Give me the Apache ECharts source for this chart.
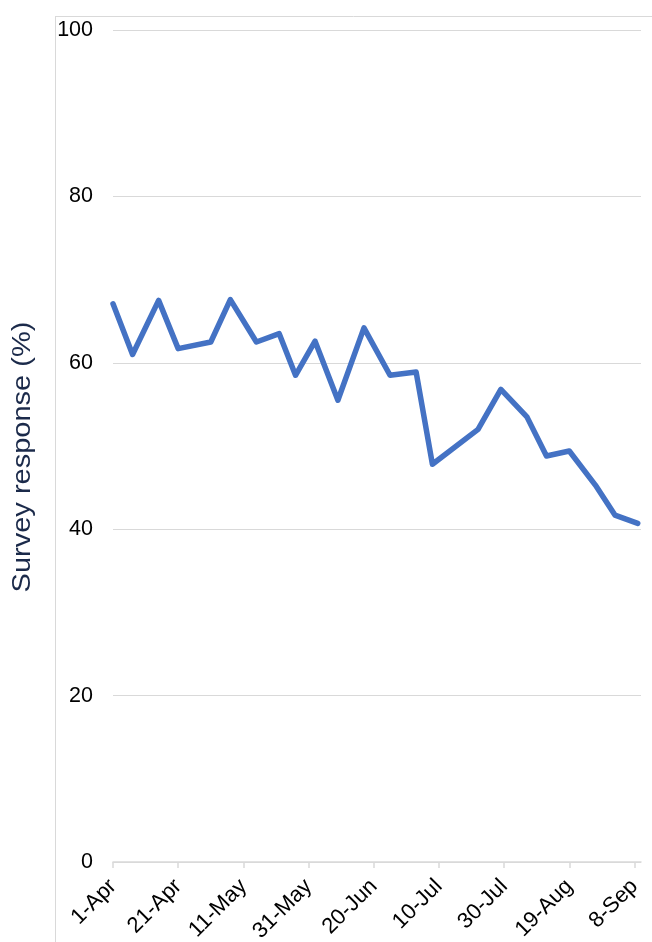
<!DOCTYPE html>
<html>
<head>
<meta charset="utf-8">
<script src="https://cdn.jsdelivr.net/npm/echarts@6/dist/echarts.min.js"></script>
<style>
html,body{margin:0;padding:0;background:#fff;}
#chart{width:652px;height:942px;}
</style>
</head>
<body>
<div id="chart"></div>
<script>
// Days since 1-Apr for each survey point
var dayOffsets = [0, 6, 14, 20, 30, 36, 44, 51, 56, 62, 69, 77, 85, 93, 98, 112, 119, 127, 133, 140, 148, 154, 161];
// Survey response (%)
var responses = [67.1, 61.0, 67.5, 61.7, 62.5, 67.6, 62.5, 63.5, 58.5, 62.6, 55.5, 64.2, 58.5, 58.9, 47.8, 52.0, 56.8, 53.5, 48.8, 49.4, 45.3, 41.7, 40.7];
// x tick positions (days) and labels
var xTickDays = [0, 20, 40, 60, 80, 100, 120, 140, 160];
var xTickLabels = ['1-Apr', '21-Apr', '11-May', '31-May', '20-Jun', '10-Jul', '30-Jul', '19-Aug', '8-Sep'];
var yTicks = [0, 20, 40, 60, 80, 100];
var yTitle = 'Survey response (%)';

var chart = echarts.init(document.getElementById('chart'));
var seriesData = dayOffsets.map(function (d, i) { return [d, responses[i]]; });
var font = 'Liberation Sans, Arial, sans-serif';

chart.setOption({
  animation: false,
  grid: { left: 113, right: 11, top: 30, bottom: 80, containLabel: false, outerBoundsMode: 'none' },
  graphic: [
    { type: 'line', shape: { x1: 55.5, y1: 16, x2: 55.5, y2: 942 }, style: { stroke: '#d9d9d9', lineWidth: 1 }, silent: true },
    { type: 'line', shape: { x1: 55, y1: 16.5, x2: 652, y2: 16.5 }, style: { stroke: '#d9d9d9', lineWidth: 1 }, silent: true },
    { type: 'text', x: 23, y: 457, rotation: Math.PI / 2, scaleX: 1.16, scaleY: 1,
      style: { text: yTitle, fill: '#1b2a4a', font: '25px ' + font, align: 'center', verticalAlign: 'middle' } }
  ],
  xAxis: {
    type: 'value', min: 0, max: 162, interval: 20,
    axisLine: { show: true, lineStyle: { color: '#d9d9d9', width: 1.5 } },
    axisTick: { show: true, length: 6, lineStyle: { color: '#d9d9d9', width: 1.5 }, customValues: xTickDays },
    axisLabel: {
      customValues: xTickDays, rotate: 45, margin: 21,
      color: '#000', fontSize: 22, fontFamily: font,
      formatter: function (v) { var i = xTickDays.indexOf(v); return i >= 0 ? xTickLabels[i] : ''; }
    },
    splitLine: { show: false }
  },
  yAxis: {
    type: 'value', min: 0, max: 100, interval: 20,
    axisLine: { show: false }, axisTick: { show: false },
    axisLabel: { color: '#000', fontSize: 21.5, fontFamily: font, margin: 20,
      formatter: function (v) { return yTicks.indexOf(v) >= 0 ? String(v) : ''; } },
    splitLine: { show: true, lineStyle: { color: '#d9d9d9', width: 1 } }
  },
  series: [{
    type: 'line', data: seriesData, showSymbol: false, symbol: 'none',
    lineStyle: { color: '#4472C4', width: 5.5, join: 'round', cap: 'round' }
  }]
});
</script>
</body>
</html>
